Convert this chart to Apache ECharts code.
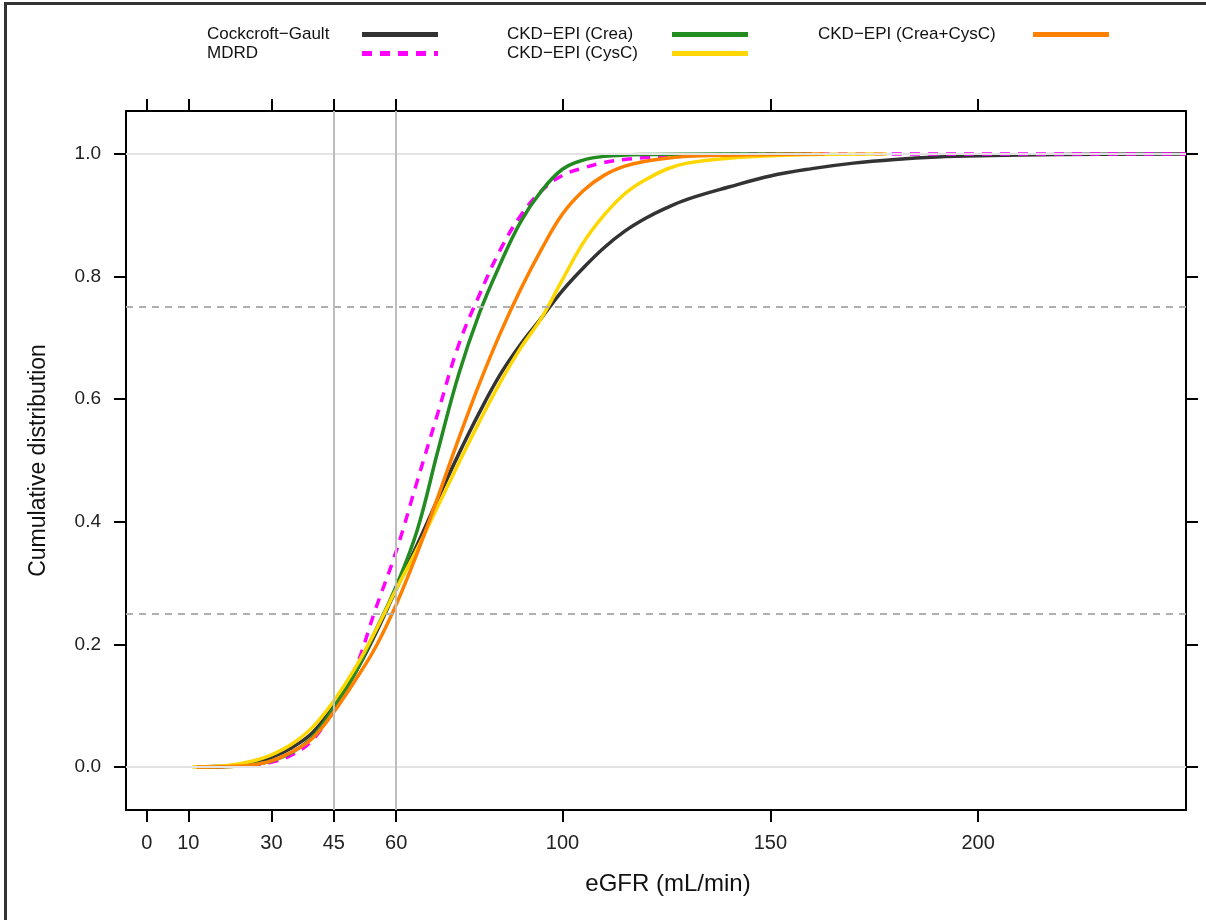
<!DOCTYPE html>
<html>
<head>
<meta charset="utf-8">
<title>eGFR cumulative distribution</title>
<script src="https://cdn.jsdelivr.net/npm/echarts@6/dist/echarts.min.js"></script>
<style>
  html, body { margin: 0; padding: 0; background: #fff; }
  #chart { position: absolute; left: 0; top: 0; width: 1206px; height: 920px; }
  #frame { position: absolute; left: 4px; top: 2px; width: 1300px; height: 1000px;
           border-left: 3px solid #333; border-top: 3px solid #333; pointer-events: none; }
</style>
</head>
<body>
<div id="chart"></div>
<div id="frame"></div>
<script>
// eGFR values (mL/min) and cumulative share
const cgX = [12, 20, 25, 30, 35, 40, 45, 50, 55, 60, 65, 70, 75, 80, 85, 90, 95, 100, 105, 110, 115, 120, 125, 130, 140, 150, 160, 170, 180, 190, 200, 220, 250]
const cgY = [0, 0.002, 0.007, 0.016, 0.032, 0.057, 0.1, 0.152, 0.217, 0.29, 0.362, 0.437, 0.51, 0.578, 0.64, 0.69, 0.733, 0.777, 0.814, 0.847, 0.874, 0.895, 0.912, 0.926, 0.946, 0.964, 0.976, 0.985, 0.991, 0.995, 0.997, 0.999, 1]

const mdrdX = [12, 20, 25, 30, 35, 40, 45, 50, 55, 60, 65, 70, 75, 80, 85, 90, 95, 100, 105, 110, 115, 120, 130, 140, 150, 250]
const mdrdY = [0, 0.001, 0.003, 0.008, 0.02, 0.045, 0.095, 0.158, 0.257, 0.352, 0.465, 0.577, 0.688, 0.77, 0.843, 0.9, 0.94, 0.965, 0.977, 0.986, 0.991, 0.994, 0.998, 0.999, 1, 1]

const creaX = [12, 20, 25, 30, 35, 40, 45, 50, 55, 60, 65, 70, 75, 80, 85, 90, 95, 100, 105, 110, 120, 140, 160]
const creaY = [0, 0.001, 0.004, 0.01, 0.024, 0.05, 0.097, 0.152, 0.222, 0.295, 0.385, 0.515, 0.64, 0.74, 0.82, 0.89, 0.94, 0.975, 0.99, 0.996, 0.999, 1, 1]

const cysX = [11, 20, 25, 30, 35, 40, 45, 50, 55, 60, 65, 70, 75, 80, 85, 90, 95, 100, 105, 110, 115, 120, 125, 130, 140, 150, 160, 178]
const cysY = [0, 0.003, 0.009, 0.02, 0.038, 0.066, 0.108, 0.16, 0.222, 0.29, 0.355, 0.425, 0.495, 0.563, 0.627, 0.684, 0.733, 0.795, 0.855, 0.9, 0.935, 0.958, 0.975, 0.985, 0.993, 0.997, 0.999, 1]

const bothX = [12, 20, 25, 30, 35, 40, 45, 50, 55, 60, 65, 70, 75, 80, 85, 90, 95, 100, 105, 110, 115, 120, 125, 130, 140, 150, 163]
const bothY = [0, 0.001, 0.003, 0.01, 0.025, 0.048, 0.09, 0.14, 0.195, 0.265, 0.348, 0.44, 0.535, 0.625, 0.707, 0.78, 0.845, 0.902, 0.94, 0.965, 0.98, 0.988, 0.993, 0.996, 0.998, 0.999, 1]

const xTicks = [0, 10, 30, 45, 60, 100, 150, 200]
const yTicks = [0, 0.2, 0.4, 0.6, 0.8, 1.0]
const refX = [45, 60]        // solid grey verticals
const refYDashed = [0.25, 0.75]
const refYSolid = [0, 1]

const names = ['Cockcroft\u2212Gault', 'MDRD', 'CKD\u2212EPI (Crea)', 'CKD\u2212EPI (CysC)', 'CKD\u2212EPI (Crea+CysC)']

function zip(xs, ys) {
  return xs.map((x, i) => [x, ys[i]])
}

const font = 'Liberation Sans, Arial, Helvetica, sans-serif'
const black = '#000'

const chart = echarts.init(document.getElementById('chart'), null, { renderer: 'canvas' })

const lineSerie = (name, data, color, extra) => Object.assign({
  name: name,
  type: 'line',
  data: data,
  symbol: 'none',
  smooth: 0.4,
  animation: false,
  lineStyle: { color: color, width: 3.5 },
  itemStyle: { color: color }
}, extra || {})

// text sits in a fixed-width box so that every key line starts at the same x
const legendFor = (left, data, boxWidth) => ({
  orient: 'vertical',
  align: 'right',
  left: left,
  top: 26,
  itemWidth: 76,
  itemHeight: 14,
  itemGap: 2,
  padding: 0,
  selectedMode: false,
  data: data,
  itemStyle: { opacity: 0 },
  lineStyle: { width: 5 },
  formatter: name => '{t|' + name + '}',
  textStyle: {
    fontFamily: font, fontSize: 17, color: '#111',
    rich: { t: { width: boxWidth, align: 'left', fontFamily: font, fontSize: 17, color: '#111' } }
  }
})

chart.setOption({
  backgroundColor: '#fff',
  textStyle: { fontFamily: font },
  legend: [
    legendFor(207, [names[0], names[1]], 150),
    legendFor(507, [names[2], names[3]], 160),
    legendFor(818, [names[4]], 210)
  ],
  grid: { left: 126, right: 20, top: 111, bottom: 110 },
  xAxis: [
    {
      type: 'value', min: -5, max: 250, position: 'bottom',
      name: 'eGFR (mL/min)', nameLocation: 'middle', nameGap: 62,
      nameTextStyle: { fontSize: 24, color: '#111', padding: [0, 0, 0, 24] },
      axisLine: { onZero: false, lineStyle: { color: black, width: 2 } },
      axisTick: { inside: false, length: 12, lineStyle: { color: black, width: 2 }, customValues: xTicks },
      axisLabel: { margin: 23, fontSize: 20, color: '#222', customValues: xTicks },
      splitLine: { show: false }
    },
    {
      type: 'value', min: -5, max: 250, position: 'top',
      axisLine: { onZero: false, lineStyle: { color: black, width: 2 } },
      axisTick: { inside: false, length: 12, lineStyle: { color: black, width: 2 }, customValues: xTicks },
      axisLabel: { show: false },
      splitLine: { show: false }
    }
  ],
  yAxis: [
    {
      type: 'value', min: -0.07, max: 1.07, position: 'left',
      name: 'Cumulative distribution', nameLocation: 'middle', nameGap: 76, nameRotate: 90,
      nameTextStyle: { fontSize: 23, color: '#111' },
      axisLine: { onZero: false, lineStyle: { color: black, width: 2 } },
      axisTick: { inside: false, length: 12, lineStyle: { color: black, width: 2 }, customValues: yTicks },
      axisLabel: { margin: 25, fontSize: 19, color: '#222', customValues: yTicks, formatter: v => v.toFixed(1) },
      splitLine: { show: false }
    },
    {
      type: 'value', min: -0.07, max: 1.07, position: 'right',
      axisLine: { onZero: false, lineStyle: { color: black, width: 2 } },
      axisTick: { inside: false, length: 12, lineStyle: { color: black, width: 2 }, customValues: yTicks },
      axisLabel: { show: false },
      splitLine: { show: false }
    }
  ],
  series: [
    lineSerie(names[0], zip(cgX, cgY), '#333333', {
      markLine: {
        silent: true, symbol: 'none', animation: false, label: { show: false },
        data: [
          ...refYSolid.map(v => ({ yAxis: v, lineStyle: { color: '#e3e3e3', width: 2, type: 'solid' } })),
          ...refYDashed.map(v => ({ yAxis: v, lineStyle: { color: '#b0b0b0', width: 2, type: [7, 6] } })),
          ...refX.map(v => ({ xAxis: v, lineStyle: { color: '#bdbdbd', width: 2, type: 'solid' } }))
        ]
      }
    }),
    lineSerie(names[1], zip(mdrdX, mdrdY), '#ff00ff', { lineStyle: { color: '#ff00ff', width: 3.5, type: [10, 8] } }),
    lineSerie(names[2], zip(creaX, creaY), '#228b22'),
    lineSerie(names[3], zip(cysX, cysY), '#ffd700'),
    lineSerie(names[4], zip(bothX, bothY), '#ff7f00')
  ]
})
</script>
</body>
</html>
